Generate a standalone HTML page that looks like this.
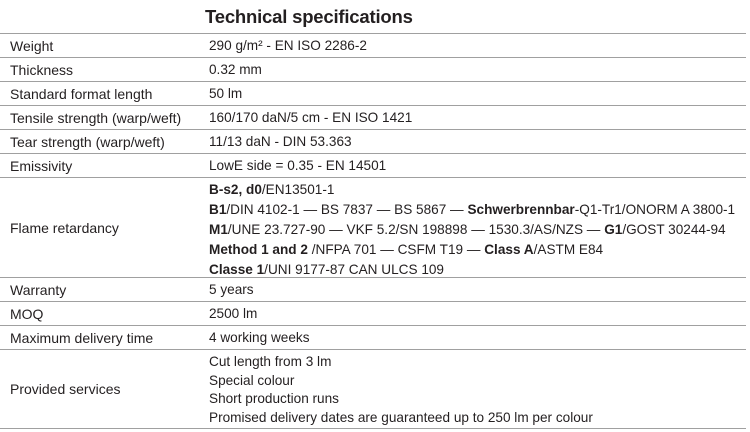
<!DOCTYPE html>
<html><head><meta charset="utf-8"><style>
body{margin:0;width:750px;height:432px;background:#fff;position:relative;overflow:hidden;font-family:"Liberation Sans",sans-serif;color:#231f20;font-size:13.6px}
.t{position:absolute;left:205px;top:6px;font-size:18.5px;font-weight:bold;white-space:nowrap;letter-spacing:-0.2px}
.l{position:absolute;left:0;width:746px;height:0;border-top:1.5px solid #a0a0a0}
.a,.b{position:absolute;white-space:nowrap;line-height:16px}
.a{left:10px;font-size:14px}.b{left:209px}
</style></head><body>
<div class="t">Technical specifications</div>
<div class="l" style="top:33px"></div>
<div class="l" style="top:57px"></div>
<div class="l" style="top:81px"></div>
<div class="l" style="top:105px"></div>
<div class="l" style="top:129px"></div>
<div class="l" style="top:153px"></div>
<div class="l" style="top:177px"></div>
<div class="l" style="top:277px"></div>
<div class="l" style="top:301px"></div>
<div class="l" style="top:325px"></div>
<div class="l" style="top:349px"></div>
<div class="l" style="top:428px"></div>

<div class="a" style="top:38px">Weight</div><div class="b" style="top:38px">290 g/m² - EN ISO 2286-2</div>
<div class="a" style="top:62px">Thickness</div><div class="b" style="top:62px">0.32 mm</div>
<div class="a" style="top:86px">Standard format length</div><div class="b" style="top:86px">50 lm</div>
<div class="a" style="top:110px">Tensile strength (warp/weft)</div><div class="b" style="top:110px">160/170 daN/5 cm - EN ISO 1421</div>
<div class="a" style="top:134px">Tear strength (warp/weft)</div><div class="b" style="top:134px">11/13 daN - DIN 53.363</div>
<div class="a" style="top:158px">Emissivity</div><div class="b" style="top:158px">LowE side = 0.35 - EN 14501</div>
<div class="a" style="top:220px">Flame retardancy</div>
<div class="b" style="top:180px;line-height:20px"><b>B-s2, d0</b>/EN13501-1<br><b>B1</b>/DIN 4102-1 — BS 7837 — BS 5867 — <b>Schwerbrennbar</b>-Q1-Tr1/ONORM A 3800-1<br><b>M1</b>/UNE 23.727-90 — VKF 5.2/SN 198898 — 1530.3/AS/NZS — <b>G1</b>/GOST 30244-94<br><b>Method 1 and 2</b> /NFPA 701 — CSFM T19 — <b>Class A</b>/ASTM E84<br><b>Classe 1</b>/UNI 9177-87 CAN ULCS 109</div>
<div class="a" style="top:282px">Warranty</div><div class="b" style="top:282px">5 years</div>
<div class="a" style="top:306px">MOQ</div><div class="b" style="top:306px">2500 lm</div>
<div class="a" style="top:330px">Maximum delivery time</div><div class="b" style="top:330px">4 working weeks</div>
<div class="a" style="top:381px">Provided services</div>
<div class="b" style="top:353px;line-height:18.5px">Cut length from 3 lm<br>Special colour<br>Short production runs<br>Promised delivery dates are guaranteed up to 250 lm per colour</div>
</body></html>
